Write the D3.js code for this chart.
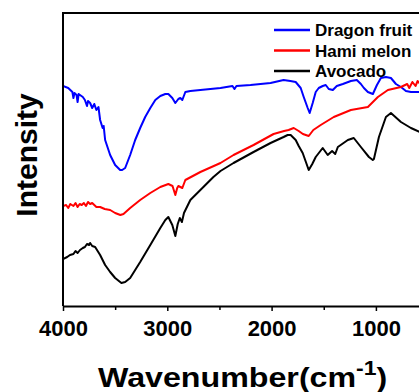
<!DOCTYPE html>
<html>
<head>
<meta charset="utf-8">
<script src="https://cdn.jsdelivr.net/npm/d3@7"></script>
<style>
  body { margin: 0; background: #fff; }
  text { font-family: "Liberation Sans", Arial, sans-serif; font-weight: bold; }
</style>
</head>
<body>
<svg id="chart"></svg>
<script>
var width = 419, height = 392;

// FTIR spectra, [wavenumber cm-1, intensity a.u.]
var dragonFruit = [[4000,220],[3950,218],[3930,216],[3910,214],[3900,208],[3890,213],[3870,211],[3860,204],[3850,212],
  [3837,211],[3810,209],[3790,206],[3770,200],[3760,205],[3740,203],[3720,198],[3700,202],[3680,196],[3660,199],
  [3644,186],[3620,178],[3610,180],[3596,166],[3548,151],[3500,141],[3452,136],[3433,136],[3404,138],[3356,151],[3308,166],[3260,178],
  [3212,189],[3163,198],[3115,206],[3067,210],[3019,212],[2990,212],[2952,208],[2923,203],[2894,207],[2875,208],
  [2856,206],[2827,214],[2779,215],[2683,216],[2490,218],[2375,220],[2356,217],[2337,220],[2202,221],[2010,223],
  [1885,226],[1820,225],[1769,224],[1721,218],[1692,209],[1654,198],[1635,193],[1606,203],[1577,214],[1548,218],
  [1510,220],[1481,221],[1452,217],[1413,216],[1375,220],[1317,222],[1240,225],[1183,226],[1144,222],[1115,218],
  [1077,214],[1029,212],[990,221],[952,228],[904,229],[856,228],[808,222],[760,219],[712,215],[664,214],[577,214],[450,214]];

var hamiMelon = [[4000,100],[3970,101],[3950,98],[3930,102],[3900,100],[3880,103],[3860,99],[3840,102],[3820,101],
  [3800,103],[3780,100],[3760,104],[3740,102],[3720,103],[3700,101],[3680,99],[3644,99],[3600,97],[3548,96],
  [3500,93],[3450,91],[3420,92],[3356,98],[3260,106],[3163,113],[3067,119],[2990,122],[2950,120],[2923,111],
  [2905,118],[2894,120],[2875,119],[2856,118],[2827,126],[2683,134],[2490,143],[2365,151],[2173,161],[1981,172],
  [1880,175],[1837,176],[1788,178],[1740,175],[1700,172],[1644,170],[1600,176],[1529,181],[1404,189],[1240,196],
  [1077,199],[981,209],[885,216],[760,219],[700,222],[680,218],[650,224],[620,220],[600,225],[577,222],[450,226]];

var avocado = [[4000,47],[3960,49],[3933,51],[3900,52],[3880,55],[3860,53],[3837,56],[3810,58],[3790,59],[3770,62],
  [3750,61],[3740,63],[3720,60],[3692,59],[3644,51],[3596,41],[3548,34],[3500,28],[3440,23],[3404,24],[3356,28],
  [3260,44],[3163,61],[3067,78],[3019,86],[2990,89],[2952,81],[2923,70],[2900,82],[2880,88],[2860,84],[2840,93],
  [2779,106],[2654,119],[2558,129],[2490,135],[2365,143],[2173,154],[2010,163],[1885,169],[1846,171],[1817,171],
  [1769,166],[1740,160],[1702,153],[1644,136],[1610,142],[1577,149],[1510,158],[1462,151],[1420,155],[1390,152],
  [1365,159],[1269,166],[1212,168],[1144,159],[1067,149],[1030,146],[1019,147],[971,169],[904,189],[856,193],
  [760,184],[664,178],[577,174],[450,170]];

var seriesNames = ["Dragon fruit", "Hami melon", "Avocado"];
var seriesColors = ["#0000ff", "#ff0000", "#000000"];
var seriesData = [dragonFruit, hamiMelon, avocado];
var majorTicks = [4000, 3000, 2000, 1000];
var minorTicks = [3500, 2500, 1500, 500];

var svg = d3.select("#chart")
    .attr("width", width)
    .attr("height", height);

var plotLeft = 63, plotTop = 13, plotBottom = 306;

var x = d3.scaleLinear().domain([4000, 400]).range([plotLeft, plotLeft + 3.6 * 104.3]);
var y = d3.scaleLinear().domain([0, 293]).range([plotBottom, plotTop]);

svg.append("defs").append("clipPath").attr("id", "plot")
  .append("rect")
    .attr("x", plotLeft).attr("y", plotTop)
    .attr("width", x(400) - plotLeft).attr("height", plotBottom - plotTop);

var line = d3.line()
    .x(function (d) { return x(d[0]); })
    .y(function (d) { return y(d[1]); });

svg.append("g").attr("clip-path", "url(#plot)")
  .selectAll("path")
  .data(seriesData)
  .enter().append("path")
    .attr("d", line)
    .attr("fill", "none")
    .attr("stroke", function (d, i) { return seriesColors[i]; })
    .attr("stroke-width", 2)
    .attr("stroke-linejoin", "round");

// frame
svg.append("line")
    .attr("x1", plotLeft).attr("x2", x(400))
    .attr("y1", plotTop).attr("y2", plotTop)
    .attr("stroke", "#000").attr("stroke-width", 2);
svg.append("line")
    .attr("x1", plotLeft).attr("x2", plotLeft)
    .attr("y1", plotTop - 1).attr("y2", plotBottom)
    .attr("stroke", "#000").attr("stroke-width", 2);

var xAxis = svg.append("g")
    .attr("transform", "translate(0," + plotBottom + ")")
    .call(d3.axisBottom(x).tickValues(majorTicks).tickSize(5).tickSizeOuter(0).tickPadding(9)
      .tickFormat(function (d) { return d; }));
xAxis.select(".domain").attr("stroke-width", 2);
xAxis.selectAll(".tick line").attr("stroke-width", 1.5);
xAxis.selectAll(".tick text")
    .attr("font-size", 22)
    .attr("font-family", "Liberation Sans, Arial, sans-serif")
    .attr("font-weight", "bold")
    .attr("fill", "#000");

var minor = svg.append("g")
    .attr("transform", "translate(0," + plotBottom + ")")
    .call(d3.axisBottom(x).tickValues(minorTicks).tickSize(4).tickSizeOuter(0).tickFormat(""));
minor.select(".domain").remove();
minor.selectAll(".tick line").attr("stroke-width", 1.5);

// axis titles
var xt = svg.append("text")
    .attr("transform", "translate(98,387) scale(1.15,1)")
    .attr("font-size", 28)
    .attr("fill", "#000");
xt.append("tspan").text("Wavenumber(cm");
xt.append("tspan").attr("dy", -12).attr("font-size", 20).text("-1");
xt.append("tspan").attr("dy", 12).text(")");

svg.append("text")
    .attr("transform", "translate(37,155) rotate(-90)")
    .attr("text-anchor", "middle")
    .attr("font-size", 30)
    .attr("fill", "#000")
    .text("Intensity");

// legend
var legend = svg.append("g").selectAll("g")
    .data(seriesNames)
    .enter().append("g")
    .attr("transform", function (d, i) { return "translate(274," + (30 + i * 20.5) + ")"; });
legend.append("line")
    .attr("x1", 0).attr("x2", 36)
    .attr("stroke", function (d, i) { return seriesColors[i]; })
    .attr("stroke-width", 2.5);
legend.append("text")
    .attr("x", 41).attr("y", 6)
    .attr("font-size", 17)
    .attr("fill", "#000")
    .text(function (d) { return d; });
</script>
</body>
</html>
